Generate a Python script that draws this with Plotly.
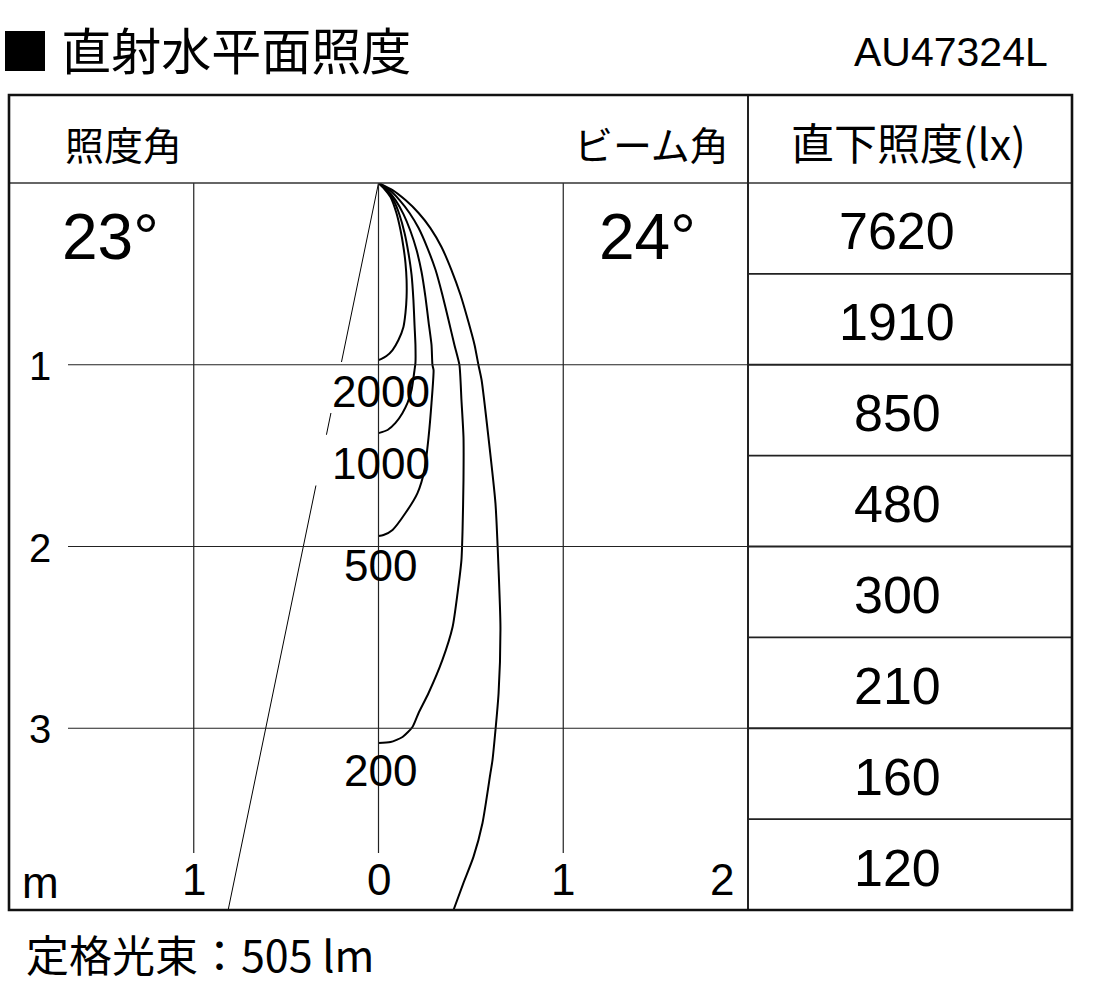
import math
import plotly.graph_objects as go

W, H = 1110, 999

# ---------------- data ----------------
title_text = "■ 直射水平面照度"
model_code = "AU47324L"
spread_label = "照度角"
beam_label = "ビーム角"
table_header = "直下照度(lx)"
spread_angle_deg = 23
beam_angle_deg = 24
rated_flux_text = "定格光束：505 lm"

# illuminance directly below, rows = depth 0.5 m .. 4.0 m
center_lux = [7620, 1910, 850, 480, 300, 210, 160, 120]
row_step_m = 0.5

# isolux curves (x in m to the right, depth in m downward)
iso_levels = ["2000", "1000", "500", "200", "100"]
iso_2000_x = [0, 0.032, 0.065, 0.097, 0.119, 0.135, 0.146, 0.152, 0.152, 0.146, 0.135, 0.108, 0.076, 0.043, 0.016, 0]
iso_2000_d = [0, 0.033, 0.077, 0.165, 0.259, 0.352, 0.440, 0.534, 0.627, 0.715, 0.792, 0.864, 0.919, 0.952, 0.968, 0.974]
iso_1000_x = [0, 0.043, 0.081, 0.114, 0.141, 0.162, 0.179, 0.189, 0.195, 0.200, 0.200, 0.195, 0.179, 0.157, 0.130, 0.092, 0.049, 0]
iso_1000_d = [0, 0.039, 0.094, 0.176, 0.275, 0.385, 0.506, 0.644, 0.781, 0.891, 0.990, 1.029, 1.139, 1.210, 1.265, 1.320, 1.359, 1.376]
iso_500_x = [0, 0.049, 0.092, 0.135, 0.173, 0.206, 0.233, 0.254, 0.271, 0.287, 0.292, 0.298, 0.287, 0.271, 0.249, 0.211, 0.146, 0.076, 0.027, 0]
iso_500_d = [0, 0.039, 0.094, 0.171, 0.264, 0.369, 0.490, 0.627, 0.765, 0.891, 1.001, 1.029, 1.210, 1.398, 1.579, 1.706, 1.816, 1.909, 1.937, 1.942]
iso_200_x = [0, 0.060, 0.114, 0.168, 0.217, 0.265, 0.309, 0.346, 0.379, 0.411, 0.438, 0.449, 0.460, 0.460, 0.455, 0.449, 0.428, 0.401, 0.346, 0.271, 0.217, 0.184, 0.130, 0.065, 0]
iso_200_d = [0, 0.039, 0.094, 0.165, 0.248, 0.358, 0.479, 0.616, 0.754, 0.891, 1.001, 1.194, 1.398, 1.634, 1.909, 2.074, 2.256, 2.443, 2.624, 2.806, 2.916, 2.993, 3.048, 3.076, 3.081]
iso_100_x = [0, 0.076, 0.146, 0.217, 0.281, 0.341, 0.395, 0.444, 0.487, 0.520, 0.541, 0.558, 0.595, 0.633, 0.650, 0.660, 0.650, 0.617, 0.606, 0.563, 0.514, 0.460, 0.406]
iso_100_d = [0, 0.039, 0.094, 0.165, 0.248, 0.352, 0.479, 0.616, 0.765, 0.891, 1.001, 1.084, 1.398, 1.761, 2.129, 2.443, 2.806, 3.175, 3.246, 3.521, 3.708, 3.851, 4.0]

# label positions for the isolux values (centre, in m)
iso_label_text = ["2000", "1000", "500", "200"]
iso_label_x = [0.011, 0.011, 0.011, 0.011]
iso_label_d = [1.145, 1.545, 2.105, 3.235]

x_tick_vals = [-1, 0, 1, 2]
x_tick_text = ["1", "0", "1", "2"]
depth_tick_vals = [1, 2, 3]
depth_tick_text = ["1", "2", "3"]
unit_text = "m"

# ---------------- layout geometry (pixels) ----------------
BOX_L, BOX_R, BOX_T, BOX_B = 9, 1072, 95, 910
HEAD_B = 183
DIV_X = 748
X_RANGE = [-2, 2]
D_RANGE = [4, 0]

def fx(p):
    return p / W

def fy(p):
    return 1 - p / H

NUM_FONT = "Liberation Sans, Arial, Helvetica, sans-serif"
JP_FONT = "Noto Sans CJK JP, Liberation Sans, sans-serif"

fig = go.Figure()

curves = [
    (iso_2000_x, iso_2000_d),
    (iso_1000_x, iso_1000_d),
    (iso_500_x, iso_500_d),
    (iso_200_x, iso_200_d),
    (iso_100_x, iso_100_d),
]
for (cx, cd), lvl in zip(curves, iso_levels):
    fig.add_trace(go.Scatter(
        x=cx, y=cd, mode="lines", name=lvl,
        line=dict(color="black", width=2, shape="spline", smoothing=0.6),
        hoverinfo="skip", showlegend=False,
    ))

shapes = []
# spread-angle line (drawn below traces)
half = math.radians(spread_angle_deg / 2)
shapes.append(dict(type="line", xref="x", yref="y", x0=0, y0=0,
                   x1=-D_RANGE[0] * math.tan(half), y1=D_RANGE[0],
                   line=dict(color="black", width=1), layer="below"))
# white label backgrounds (hide the spread line only)
for lx_, ld_ in zip(iso_label_x, iso_label_d):
    shapes.append(dict(type="rect", xref="x", yref="y",
                       x0=lx_ - 0.36, x1=lx_ + 0.36, y0=ld_ - 0.16, y1=ld_ + 0.12,
                       fillcolor="white", line=dict(width=0), layer="below"))

# grid lines
grid_bottom = (853 - HEAD_B) / ((BOX_B - HEAD_B) / 4)
grid_left = X_RANGE[0] + (68 - BOX_L) / ((DIV_X - BOX_L) / 4)
for v in [-1, 0, 1]:
    shapes.append(dict(type="line", xref="x", yref="y", x0=v, x1=v, y0=0, y1=grid_bottom,
                       line=dict(color="#222", width=1.2), layer="above"))
for d in depth_tick_vals:
    shapes.append(dict(type="line", xref="x", yref="y", x0=grid_left, x1=X_RANGE[1], y0=d, y1=d,
                       line=dict(color="#222", width=1.2), layer="above"))

# table row lines
for i in range(1, len(center_lux)):
    shapes.append(dict(type="line", xref="paper", yref="y", x0=fx(DIV_X), x1=fx(BOX_R),
                       y0=i * row_step_m, y1=i * row_step_m,
                       line=dict(color="#222", width=1.8), layer="above"))
# header bottom line
shapes.append(dict(type="line", xref="paper", yref="paper", x0=fx(BOX_L), x1=fx(BOX_R),
                   y0=fy(HEAD_B), y1=fy(HEAD_B), line=dict(color="#333", width=1.5), layer="above"))
# divider
shapes.append(dict(type="line", xref="paper", yref="paper", x0=fx(DIV_X), x1=fx(DIV_X),
                   y0=fy(BOX_T), y1=fy(BOX_B), line=dict(color="#222", width=2), layer="above"))
# outer border
shapes.append(dict(type="rect", xref="paper", yref="paper", x0=fx(BOX_L), x1=fx(BOX_R),
                   y0=fy(BOX_B), y1=fy(BOX_T), line=dict(color="#111", width=2.6), layer="above"))

ann = []
def text(x, y, s, size, font=NUM_FONT, xanchor="center", xref="paper", yref="paper", yshift=0):
    ann.append(dict(x=x, y=y, xref=xref, yref=yref, text=s, showarrow=False,
                    xanchor=xanchor, yanchor="middle", yshift=yshift,
                    font=dict(family=font, size=size, color="black")))

# title & model
text(fx(-2), fy(48), title_text, 50, font=JP_FONT, xanchor="left")
text(fx(1050), fy(52), model_code, 41, xanchor="right")
# header row
text(fx(63), fy(143), spread_label, 39, font=JP_FONT, xanchor="left")
text(fx(731), fy(143), beam_label, 39, font=JP_FONT, xanchor="right")
text(fx(908), fy(141), table_header, 43, font=JP_FONT)
# angles
text(fx(110), fy(237), f"{spread_angle_deg}°", 64)
text(fx(647), fy(237), f"{beam_angle_deg}°", 64)
# table values
for i, v in enumerate(center_lux):
    text(fx(897), (i + 0.5) * row_step_m, str(v), 52, yref="y", yshift=-3)
# isolux labels
for s, lx_, ld_ in zip(iso_label_text, iso_label_x, iso_label_d):
    text(lx_, ld_, s, 44, xref="x", yref="y")
# depth ticks
for v, s in zip(depth_tick_vals, depth_tick_text):
    text(fx(40), v, s, 40, yref="y", yshift=-1)
# horizontal ticks
for v, s in zip(x_tick_vals, x_tick_text):
    xs = v if v != 2 else 1.86
    text(xs, fy(879), s, 44, xref="x")
text(fx(40), fy(882), unit_text, 44)
# footer
text(fx(24), fy(953), rated_flux_text, 43, font=JP_FONT, xanchor="left")

fig.update_layout(
    width=W, height=H,
    margin=dict(l=0, r=0, t=0, b=0),
    paper_bgcolor="white", plot_bgcolor="white",
    xaxis=dict(domain=[fx(BOX_L), fx(DIV_X)], range=X_RANGE, visible=False, fixedrange=True),
    yaxis=dict(domain=[fy(BOX_B), fy(HEAD_B)], range=D_RANGE, visible=False, fixedrange=True),
    shapes=shapes, annotations=ann, showlegend=False,
)

fig.write_html("out.html", config={"displayModeBar": False},
               post_script="document.body.style.margin='0';")
